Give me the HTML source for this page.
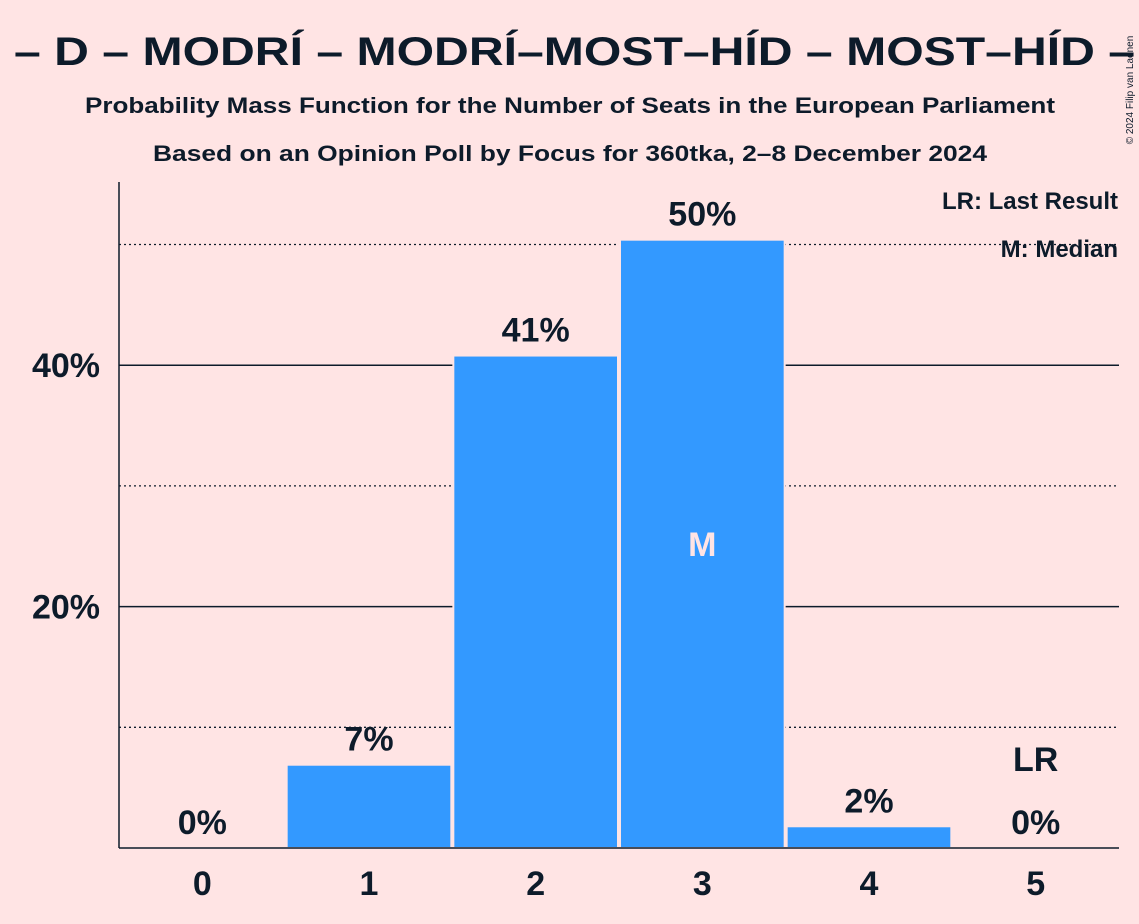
<!DOCTYPE html>
<html><head><meta charset="utf-8"><style>
html,body{margin:0;padding:0;background:#ffe4e4;}
svg{display:block;font-family:"Liberation Sans",sans-serif;}
</style></head><body>
<svg id="c" width="1139" height="924">
<rect width="1139" height="924" fill="#ffe4e4"/>
<text x="14" y="65" font-size="40" font-weight="bold" fill="#0d1b2a" textLength="1212" lengthAdjust="spacingAndGlyphs">– D – MODRÍ – MODRÍ–MOST–HÍD – MOST–HÍD – MO</text>
<text x="85" y="113" font-size="22" font-weight="bold" fill="#0d1b2a" textLength="970" lengthAdjust="spacingAndGlyphs">Probability Mass Function for the Number of Seats in the European Parliament</text>
<text x="153" y="161" font-size="22" font-weight="bold" fill="#0d1b2a" textLength="834" lengthAdjust="spacingAndGlyphs">Based on an Opinion Poll by Focus for 360tka, 2–8 December 2024</text>
<text x="1133" y="90" font-size="10" fill="#0d1b2a" transform="rotate(-90 1133 90)" text-anchor="middle">© 2024 Filip van Laenen</text>
<g id="grid"></g><g id="bars"></g><g id="labels"></g>
<text x="1118" y="209" font-size="24" font-weight="bold" fill="#0d1b2a" text-anchor="end">LR: Last Result</text>
<text x="1118" y="257" font-size="24" font-weight="bold" fill="#0d1b2a" text-anchor="end">M: Median</text>
</svg>
<script>
const categories=[0,1,2,3,4,5];
const values=[0,6.9,40.8,50.4,1.8,0];
const valueLabels=["0%","7%","41%","50%","2%","0%"];
const yTicks=[20,40];
const yDotted=[10,30,50];
const medianIndex=3;
const lastResultIndex=5;
const NS="http://www.w3.org/2000/svg";
const x0=119,x1=1119,base=848,pxPer=12.07;
const step=(x1-x0)/categories.length;
const xC=i=>x0+step*(i+0.5);
const y=v=>base-v*pxPer;
function mk(t,a,p){const e=document.createElementNS(NS,t);for(const k in a)e.setAttribute(k,a[k]);document.getElementById(p).appendChild(e);return e;}
yDotted.forEach(v=>{const l=mk('line',{x1:x0,x2:x1,y1:y(v),y2:y(v),stroke:'#0d1b2a','stroke-width':1.3,'stroke-dasharray':'2,3'},'grid');

});
yTicks.forEach(v=>{const l=mk('line',{x1:x0,x2:x1,y1:y(v),y2:y(v),stroke:'#0d1b2a','stroke-width':1.5},'grid');


const t=mk('text',{x:100,y:y(v)+12,'font-size':34,'font-weight':'bold',fill:'#0d1b2a','text-anchor':'end'},'labels');t.textContent=v+'%';

});
const ax=mk('line',{x1:x0,x2:x0,y1:182,y2:base,stroke:'#0d1b2a','stroke-width':1.5},'grid');


const bx=mk('line',{x1:x0,x2:x1,y1:base,y2:base,stroke:'#0d1b2a','stroke-width':1.5},'labels');


categories.forEach((c,i)=>{
 if(values[i]>0){const r=mk('rect',{x:xC(i)-step/2+1,y:y(values[i]),width:step-2,height:base-y(values[i]),fill:'#3399ff',stroke:'#ffe4e4','stroke-width':2},'bars');
 
 }
 const t=mk('text',{x:xC(i),y:y(values[i])-14,'font-size':34,'font-weight':'bold',fill:'#0d1b2a','text-anchor':'middle'},'labels');t.textContent=valueLabels[i];
 
 
 const xl=mk('text',{x:xC(i),y:base+47,'font-size':34,'font-weight':'bold',fill:'#0d1b2a','text-anchor':'middle'},'labels');xl.textContent=c;
 
 
});
const m=mk('text',{x:xC(medianIndex),y:y(values[medianIndex]/2)+12,'font-size':34,'font-weight':'bold',fill:'#ffe4e4','text-anchor':'middle'},'labels');m.textContent='M';


const lr=mk('text',{x:xC(lastResultIndex),y:y(values[lastResultIndex])-77,'font-size':34,'font-weight':'bold',fill:'#0d1b2a','text-anchor':'middle'},'labels');lr.textContent='LR';


</script>
</body></html>
